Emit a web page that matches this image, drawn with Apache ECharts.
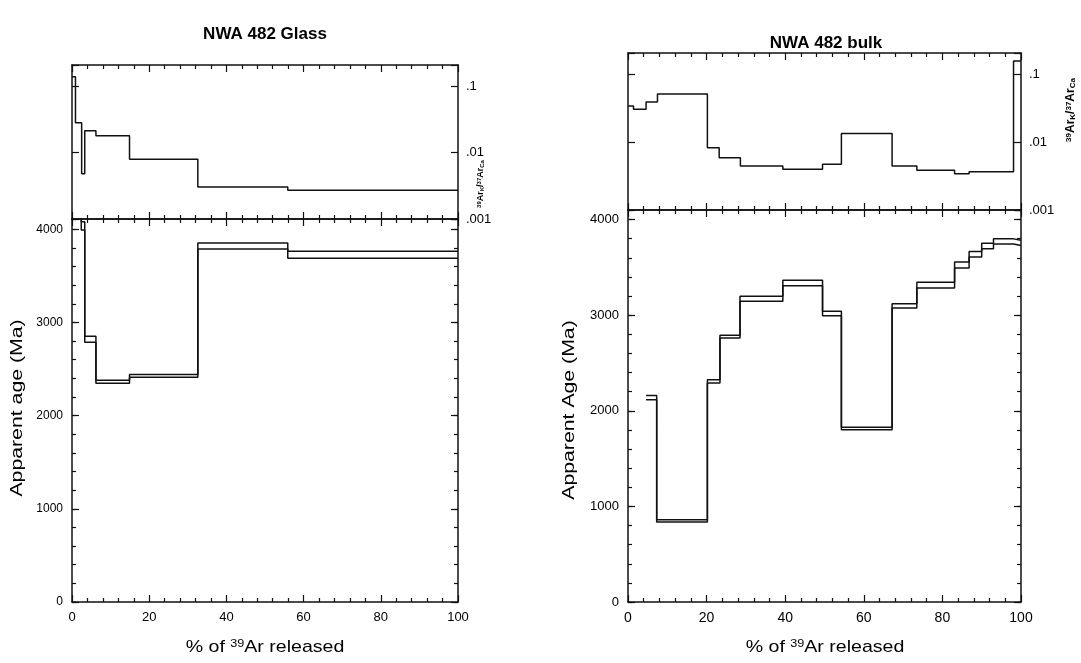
<!DOCTYPE html>
<html><head><meta charset="utf-8">
<script src="https://cdn.jsdelivr.net/npm/echarts@6/dist/echarts.min.js"></script>
<style>html,body{margin:0;padding:0;background:#fff}#c{width:1081px;height:663px}</style>
</head><body><div id="c"></div>
<script>
// ---- data (step boundaries in % 39Ar released, values per step) ----
const glassKcaSteps = [0, 0.9, 2.5, 3.3, 6.2, 14.9, 32.6, 55.9, 100];
const glassKca = [0.138, 0.028, 0.0048, 0.0213, 0.0179, 0.0079, 0.00303, 0.00271];
const glassAgeSteps = [0, 2.4, 3.3, 6.2, 14.9, 32.6, 55.9, 100];
const glassAgeHigh = [4300, 4080, 2853, 2380, 2441, 3853, 3765];
const glassAgeLow  = [4300, 3993, 2788, 2347, 2412, 3788, 3688];

const bulkKcaSteps = [0, 1.4, 4.6, 7.5, 20.2, 23.2, 28.6, 39.4, 49.5, 54.3, 67.2, 73.5, 83.1, 86.8, 98.1, 100];
const bulkKca = [0.0338, 0.0303, 0.0388, 0.0508, 0.00824, 0.00589, 0.00444, 0.00398, 0.0047, 0.0134, 0.00444, 0.00384, 0.00342, 0.00366, 0.155];
const bulkAgeSteps = [4.6, 7.3, 20.2, 23.4, 28.5, 39.4, 49.5, 54.3, 67.2, 73.5, 83.1, 86.8, 90.0, 93.0, 98.1, 100];
const bulkAgeHigh = [2160, 859, 2325, 2789, 3197, 3365, 3040, 1829, 3120, 3344, 3557, 3665, 3752, 3798, 3783];
const bulkAgeLow  = [2115, 838, 2290, 2761, 3145, 3309, 2995, 1801, 3075, 3285, 3494, 3609, 3696, 3745, 3728];

const ratioTickLabels = {'-1': '.1', '-2': '.01', '-3': '.001'};
const titles = ['NWA 482 Glass', 'NWA 482 bulk'];
const ageNames = ['Apparent age (Ma)', 'Apparent Age (Ma)'];

// ---- helpers ----
const INK = '#111';
const FONT = '"Liberation Sans", Arial, sans-serif';
function stepData(b, v) {
  const d = [];
  for (let i = 0; i < v.length; i++) d.push([b[i], v[i]]);
  d.push([b[b.length - 1], v[v.length - 1]]);
  return d;
}
function xAx(grid, pos, labels, fs) {
  return {
    type: 'value', gridIndex: grid, position: pos, min: 0, max: 100, interval: 20,
    axisLine: {show: true, onZero: false, lineStyle: {color: INK, width: 1.5}},
    axisTick: {show: true, inside: true, length: 7, lineStyle: {color: INK, width: 1.2}},
    minorTick: {show: true, splitNumber: 5, length: 4, lineStyle: {color: INK, width: 1.2}},
    axisLabel: {show: labels, color: '#000', fontSize: fs, fontFamily: FONT, margin: 9},
    splitLine: {show: false}
  };
}
function logAx(grid, pos, labels, max) {
  return {
    type: 'log', logBase: 10, gridIndex: grid, position: pos, min: 0.001, max: max,
    axisLine: {show: true, onZero: false, lineStyle: {color: INK, width: 1.5}},
    axisTick: {show: true, inside: true, length: 7, lineStyle: {color: INK, width: 1.2}},
    minorTick: {show: false},
    axisLabel: {show: labels, color: '#000', fontSize: 13, fontFamily: FONT, margin: 8,
      showMaxLabel: true, showMinLabel: true,
      formatter: v => { const l = Math.log10(v), r = Math.round(l); return Math.abs(l - r) < 1e-6 ? (ratioTickLabels[String(r)] || '') : ''; }},
    splitLine: {show: false}
  };
}
function ageAx(grid, pos, major, labels, max, fs) {
  return {
    type: 'value', gridIndex: grid, position: pos, min: 0, max: max, interval: major ? 1000 : 200,
    axisLine: {show: major, onZero: false, lineStyle: {color: INK, width: 1.5}},
    axisTick: {show: true, inside: true, length: major ? 7 : 4, lineStyle: {color: INK, width: 1.2}},
    axisLabel: {show: labels, color: '#000', fontSize: fs, fontFamily: FONT, margin: 9, showMaxLabel: false,
      formatter: v => String(v)},
    splitLine: {show: false}
  };
}
function lineSeries(xi, yi, data) {
  return {type: 'line', xAxisIndex: xi, yAxisIndex: yi, data: data, step: 'end', symbol: 'none',
    clip: true, silent: true, animation: false, lineStyle: {color: INK, width: 1.5}};
}

const grids = [
  {left: 72, width: 386, top: 65, height: 154},
  {left: 72, width: 386, top: 219, height: 383},
  {left: 628, width: 393, top: 53, height: 157},
  {left: 628, width: 393, top: 210, height: 392}
];
const xAxes = [
  xAx(0, 'top', false, 13), xAx(0, 'bottom', false, 13),   // 0,1
  xAx(1, 'top', false, 13), xAx(1, 'bottom', true, 13),    // 2,3
  xAx(2, 'top', false, 14), xAx(2, 'bottom', false, 14),   // 4,5
  xAx(3, 'top', false, 14), xAx(3, 'bottom', true, 14)     // 6,7
];
const yAxes = [
  logAx(0, 'left', false, 0.207), logAx(0, 'right', true, 0.207),                // 0,1
  ageAx(1, 'left', true, true, 4110, 12), ageAx(1, 'left', false, false, 4110, 12),   // 2,3
  ageAx(1, 'right', true, false, 4110, 12), ageAx(1, 'right', false, false, 4110, 12),// 4,5
  logAx(2, 'left', false, 0.204), logAx(2, 'right', true, 0.204),                // 6,7
  ageAx(3, 'left', true, true, 4100, 13), ageAx(3, 'left', false, false, 4100, 13),   // 8,9
  ageAx(3, 'right', true, false, 4100, 13), ageAx(3, 'right', false, false, 4100, 13) // 10,11
];
const series = [
  lineSeries(1, 0, stepData(glassKcaSteps, glassKca)),
  lineSeries(3, 2, stepData(glassAgeSteps, glassAgeHigh)),
  lineSeries(3, 2, stepData(glassAgeSteps, glassAgeLow)),
  lineSeries(5, 6, stepData(bulkKcaSteps, bulkKca)),
  lineSeries(7, 8, stepData(bulkAgeSteps, bulkAgeHigh)),
  lineSeries(7, 8, stepData(bulkAgeSteps, bulkAgeLow))
];

function txt(x, y, text, font, rot, rich, sx) {
  const el = {type: 'text', x: x, y: y, rotation: rot || 0, scaleX: sx || 1, silent: true,
    style: {text: text, font: font, fill: '#000', align: 'center', verticalAlign: 'middle'}};
  if (rich) el.style.rich = rich;
  return el;
}
const xNameRich = {
  a: {font: '17px ' + FONT, fill: '#000'},
  s: {font: '11px ' + FONT, fill: '#000', verticalAlign: 'top'}
};
const ratioRich = {
  a: {font: 'bold 12px ' + FONT, fill: '#000'},
  s: {font: 'bold 8px ' + FONT, fill: '#000', verticalAlign: 'top'},
  b: {font: 'bold 8px ' + FONT, fill: '#000', verticalAlign: 'bottom'}
};
const ratioRichSmall = {
  a: {font: 'bold 9px ' + FONT, fill: '#000'},
  s: {font: 'bold 6px ' + FONT, fill: '#000', verticalAlign: 'top'},
  b: {font: 'bold 6px ' + FONT, fill: '#000', verticalAlign: 'bottom'}
};
const xName = '{a|% of }{s|39}{a|Ar released}';
const ratioText = '{s|39}{a|Ar}{b|K}{a|/}{s|37}{a|Ar}{b|Ca}';
const graphic = [
  txt(265, 34, titles[0], 'bold 17px ' + FONT),
  txt(826, 43, titles[1], 'bold 17px ' + FONT),
  txt(265, 647, xName, '17px ' + FONT, 0, xNameRich, 1.15),
  txt(825, 647, xName, '17px ' + FONT, 0, xNameRich, 1.15),
  txt(17, 408, ageNames[0], '17px ' + FONT, Math.PI / 2, null, 1.25),
  txt(569, 410, ageNames[1], '17px ' + FONT, Math.PI / 2, null, 1.25),
  txt(481, 184, ratioText, 'bold 9px ' + FONT, Math.PI / 2, ratioRichSmall),
  txt(1071, 110, ratioText, 'bold 12px ' + FONT, Math.PI / 2, ratioRich)
];

const chart = echarts.init(document.getElementById('c'), null, {renderer: 'canvas'});
chart.setOption({
  animation: false,
  backgroundColor: '#fff',
  grid: grids,
  xAxis: xAxes,
  yAxis: yAxes,
  series: series,
  graphic: graphic
});
</script></body></html>
